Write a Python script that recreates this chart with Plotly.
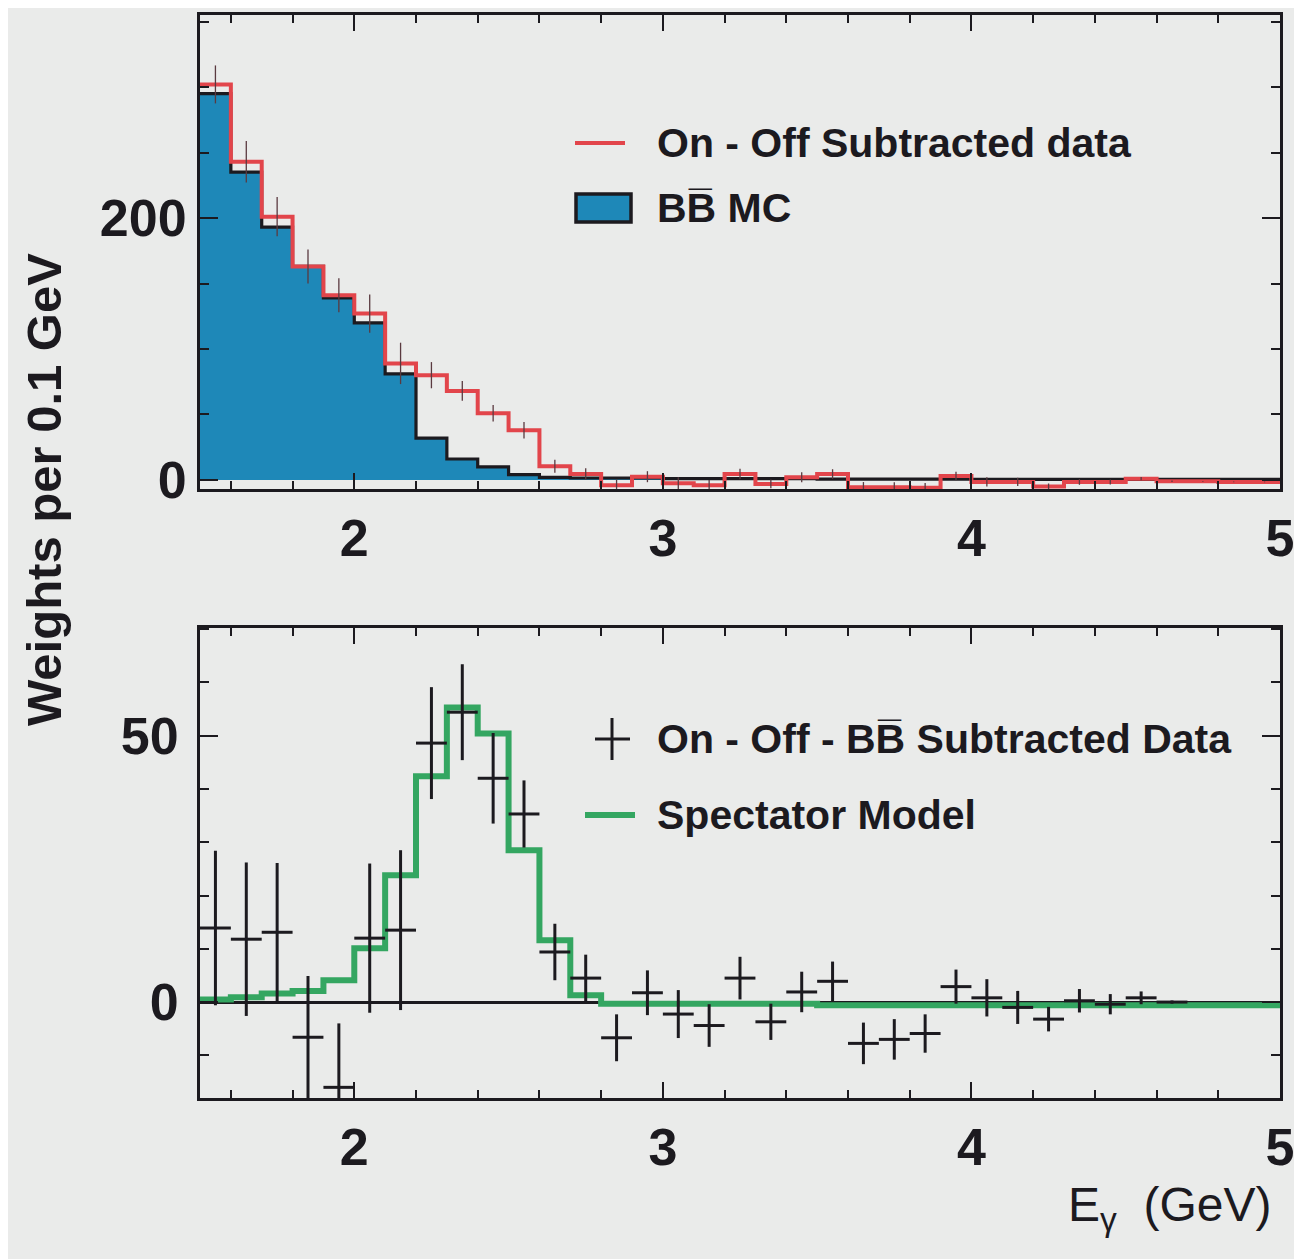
import numpy as np
import plotly.graph_objects as go

W, H = 1302, 1259          # browser window
OFF = 8                    # default page body margin
FW, FH = W, H              # figure size (slightly overflows the window; hidden part is empty)

# ---------------- data ----------------
bin_edges = [round(1.5 + 0.1 * i, 2) for i in range(36)]          # 1.5 ... 5.0

# top panel: On - Off subtracted data (red) and BB MC (blue)
onoff_data = [302, 243, 201, 163, 141, 127, 89, 80, 68, 51, 38, 10.5, 4.5,
              -4, 2.5, -2.5, -4, 4.5, -3, 2, 4.5, -5.5, -5.5, -6, 3, -1.5,
              -1.5, -5, -1.5, -1.5, 1, -1, -1, -1.5, -1.5]
onoff_err = [14.5, 15.8, 15, 13, 13, 14.6, 15.8, 10, 7.6, 6.3, 6.3, 5, 4.4,
             4.4, 4.2, 4.5, 4, 4, 3.4, 3.8, 3.7, 3.9, 3.8, 3.6, 3.2, 3.5,
             3.1, 2.3, 2.2, 1.9, 1.2, 0.5, 0.3, 0.3, 0.3]
bb_mc = [295, 235, 193, 163, 139, 120, 81, 32, 16, 10, 4, 2, 1.5,
         1.5, 1.5, 1.0, 1.0, 1.0, 1.0, 1.0, 0.7, 0.7, 0.7, 0.7, 0.7, 0.4,
         0.4, 0.4, 0.4, 0.4, 0.4, 0.4, 0.4, 0.4, 0.4]

# bottom panel: On - Off - BB subtracted data (crosses) and spectator model (green)
sub_centers = [1.55, 1.65, 1.75, 1.85, 1.95, 2.05, 2.15, 2.25, 2.35, 2.45, 2.55,
               2.65, 2.75, 2.85, 2.95, 3.05, 3.15, 3.25, 3.35, 3.45, 3.55, 3.65,
               3.75, 3.85, 3.95, 4.05, 4.15, 4.25, 4.35, 4.45, 4.55, 4.65]
sub_data = [13.9, 11.8, 13.1, -6.6, -16, 12, 13.5, 48.6, 54.4, 42, 35.3, 9.4,
            4.5, -6.7, 1.75, -2.25, -4.4, 4.5, -3.7, 1.9, 3.9, -7.75, -7, -5.9,
            2.9, 0.8, -1, -3.2, 0.25, -0.4, 0.8, 0.0]
sub_err = [14.5, 14.4, 13, 11.5, 12, 14, 15, 10.5, 9, 8.5, 6.3, 5.3, 4.4, 4.4,
           4.2, 4.5, 4, 4, 3.4, 3.8, 3.7, 3.9, 3.8, 3.6, 3.2, 3.5, 3.1, 2.3,
           2.2, 1.9, 1.2, 0.3]
spectator = [0.5, 0.9, 1.6, 2.1, 4.1, 10.1, 23.8, 42.4, 55.3, 50.4, 28.5, 11.6,
             1.3, -0.3, -0.3, -0.3, -0.3, -0.3, -0.3, -0.3, -0.6, -0.6, -0.6,
             -0.6, -0.6, -0.6, -0.6, -0.6, -0.6, -0.6, -0.6, -0.6, -0.6, -0.6, -0.6]

# ---------------- style ----------------
BG = "#eaebea"
INK = "#1c1a1f"
RED = "#e2454b"
BLUE = "#1e88b8"
GREEN = "#34a661"
FONT = "Liberation Sans"


def px(x):
    """page pixel x -> paper fraction"""
    return (x - OFF) / FW


def py(y):
    """page pixel y -> paper fraction"""
    return 1 - (y - OFF) / FH


bin_w = 0.1
top_centers = [round(e + 0.05, 3) for e in bin_edges[:-1]]


def step(vals):
    return list(bin_edges), list(vals) + [vals[-1]]


fig = go.Figure()

# --- top panel ---
sx, sy = step(bb_mc)
fig.add_trace(go.Scatter(x=sx, y=sy, mode="lines", line_shape="hv",
                         line=dict(color=INK, width=3.2), fill="tozeroy",
                         fillcolor=BLUE, xaxis="x", yaxis="y",
                         showlegend=False, hoverinfo="skip"))
sx, sy = step(onoff_data)
fig.add_trace(go.Scatter(x=sx, y=sy, mode="lines", line_shape="hv",
                         line=dict(color=RED, width=4), xaxis="x", yaxis="y",
                         showlegend=False, hoverinfo="skip"))
fig.add_trace(go.Scatter(x=top_centers, y=onoff_data, mode="markers",
                         marker=dict(size=1, color="rgba(0,0,0,0)"),
                         error_y=dict(type="data", array=onoff_err, width=0,
                                      thickness=1.3, color="#5a3a40"),
                         xaxis="x", yaxis="y", showlegend=False,
                         hoverinfo="skip"))

# --- bottom panel ---
sx, sy = step(spectator)
fig.add_trace(go.Scatter(x=sx, y=sy, mode="lines", line_shape="hv",
                         line=dict(color=GREEN, width=6), xaxis="x2",
                         yaxis="y2", showlegend=False, hoverinfo="skip"))
fig.add_trace(go.Scatter(x=sub_centers, y=sub_data, mode="markers",
                         marker=dict(size=1, color="rgba(0,0,0,0)"),
                         error_y=dict(type="data", array=sub_err, width=0,
                                      thickness=3, color=INK),
                         error_x=dict(type="constant", value=bin_w / 2, width=0,
                                      thickness=3, color=INK),
                         xaxis="x2", yaxis="y2", showlegend=False,
                         hoverinfo="skip"))

tickfont = dict(family=FONT, size=52, color=INK, weight="bold")

xdom = [px(200), px(1280)]
common_x = dict(range=[1.5, 5.0], tickmode="linear", tick0=0, dtick=1,
                ticks="inside", ticklen=16, tickwidth=2, tickcolor=INK,
                showline=True, linecolor=INK, linewidth=3, mirror="ticks",
                showgrid=False, zeroline=False, tickfont=tickfont,
                ticklabelstandoff=2, automargin=False,
                ticklabeloverflow="allow",
                minor=dict(tickmode="linear", tick0=0, dtick=0.2,
                           ticks="inside", ticklen=8, tickwidth=1.5,
                           tickcolor=INK, showgrid=False),
                domain=xdom)
common_y = dict(ticks="inside", tickwidth=2, tickcolor=INK, showline=True,
                linecolor=INK, linewidth=3, mirror="ticks", showgrid=False,
                tickfont=tickfont, automargin=False,
                ticklabeloverflow="allow",
                tickmode="linear", tick0=0, ticklen=18)

fig.update_layout(
    width=FW, height=FH,
    margin=dict(l=0, r=0, t=0, b=0),
    paper_bgcolor=BG, plot_bgcolor=BG,
    xaxis=dict(**common_x, anchor="y"),
    yaxis=dict(**common_y, range=[-6.9, 355], dtick=200, zeroline=False,
               ticklabelstandoff=0,
               domain=[py(489), py(15)], anchor="x",
               minor=dict(tickmode="linear", tick0=0, dtick=50,
                          ticks="inside", ticklen=9, tickwidth=1.5,
                          tickcolor=INK, showgrid=False)),
    xaxis2=dict(**common_x, anchor="y2"),
    yaxis2=dict(**common_y, range=[-18.0, 70.2], dtick=50, zeroline=True,
                zerolinecolor=INK, zerolinewidth=2.5, ticklabelstandoff=8,
                domain=[py(1098), py(628)], anchor="x2",
                minor=dict(tickmode="linear", tick0=0, dtick=10,
                           ticks="inside", ticklen=9, tickwidth=1.5,
                           tickcolor=INK, showgrid=False)),
    showlegend=False,
)

legfont = dict(family=FONT, size=41, color=INK, weight="bold")
ann = []
shapes = []

# top legend
shapes.append(dict(type="line", xref="paper", yref="paper",
                   x0=px(575), x1=px(625), y0=py(143), y1=py(143),
                   line=dict(color=RED, width=4)))
ann.append(dict(text="On - Off Subtracted data", xref="paper", yref="paper",
                x=px(655), y=py(143), xanchor="left", yanchor="middle",
                showarrow=False, font=legfont))
shapes.append(dict(type="rect", xref="paper", yref="paper",
                   x0=px(576), x1=px(631), y0=py(222), y1=py(194),
                   fillcolor=BLUE, line=dict(color=INK, width=3.5)))
ann.append(dict(text="BB\u0305 MC", xref="paper", yref="paper",
                x=px(655), y=py(208), xanchor="left", yanchor="middle",
                showarrow=False, font=legfont))

# bottom legend
shapes.append(dict(type="line", xref="paper", yref="paper",
                   x0=px(595), x1=px(630), y0=py(739), y1=py(739),
                   line=dict(color=INK, width=3)))
shapes.append(dict(type="line", xref="paper", yref="paper",
                   x0=px(612), x1=px(612), y0=py(718), y1=py(760),
                   line=dict(color=INK, width=3)))
ann.append(dict(text="On - Off - BB\u0305 Subtracted Data", xref="paper",
                yref="paper", x=px(655), y=py(739), xanchor="left",
                yanchor="middle", showarrow=False, font=legfont))
shapes.append(dict(type="line", xref="paper", yref="paper",
                   x0=px(585), x1=px(635), y0=py(815), y1=py(815),
                   line=dict(color=GREEN, width=6)))
ann.append(dict(text="Spectator Model", xref="paper", yref="paper",
                x=px(655), y=py(815), xanchor="left", yanchor="middle",
                showarrow=False, font=legfont))

# axis titles
ann.append(dict(text="Weights per 0.1 GeV", xref="paper", yref="paper",
                x=px(44), y=py(490), xanchor="center", yanchor="middle",
                textangle=-90, showarrow=False,
                font=dict(family=FONT, size=49, color=INK, weight="bold")))
ann.append(dict(text="E<sub>γ</sub>\u00a0\u00a0(GeV)", xref="paper",
                yref="paper", x=px(1274), y=py(1208), xanchor="right",
                yanchor="middle", showarrow=False,
                font=dict(family=FONT, size=48, color=INK)))

fig.update_layout(annotations=ann, shapes=shapes)

fig.write_html("out.html")
